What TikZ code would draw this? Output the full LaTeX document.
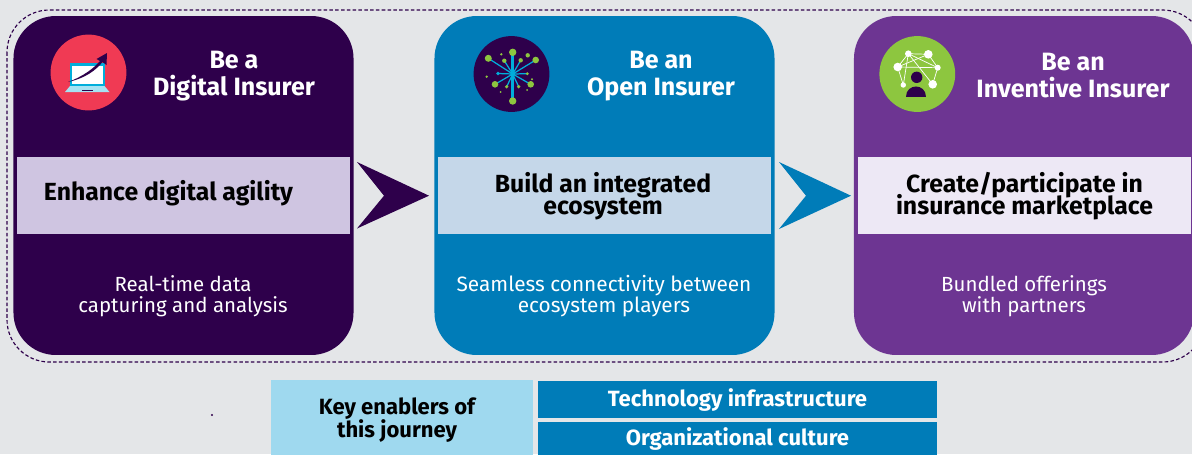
\documentclass[tikz,border=0pt]{standalone}
\usepackage{fontspec}
\setmainfont{Fira Sans}
\usepackage{tikz}
\usetikzlibrary{positioning}
\lineskiplimit=-20pt
\definecolor{pagegrey}{HTML}{E4E6E8}
\definecolor{darkplum}{HTML}{2E004B}
\definecolor{oceanblue}{HTML}{007CB8}
\definecolor{richpurple}{HTML}{6D3592}
\definecolor{paleplum}{HTML}{CFC5E1}
\definecolor{paleblue}{HTML}{C5D7E9}
\definecolor{palepurple}{HTML}{EDE8F5}
\definecolor{skyblue}{HTML}{9FD9EF}
\definecolor{leafgreen}{HTML}{8DC63F}
\definecolor{coral}{HTML}{F03A54}
\definecolor{cyanline}{HTML}{00AEDB}
\tikzset{
  card/.style={rounded corners=24pt, minimum width=192.8pt, minimum height=192.2pt, inner sep=0, outer sep=0},
  band/.style={minimum width=188.8pt, minimum height=43.7pt, inner sep=0, outer sep=0},
  bandtext/.style={align=center, inner sep=0, font=\fontsize{14.05}{12.5}\selectfont\bfseries, text=black},
  title/.style={align=center, text=white, font=\fontsize{14.2}{15.3}\selectfont\bfseries, inner sep=0},
  note/.style={align=center, text=white, font=\fontsize{11.6}{11.9}\selectfont, inner sep=0},
  enabler/.style={fill=oceanblue, text=white, minimum width=226.2pt, inner sep=0, outer sep=0, font=\fontsize{12.5}{14}\selectfont\bfseries},
  badge/.style={circle, minimum size=43pt, inner sep=0, outer sep=0},
  frame/.style={draw=darkplum, line width=0.65pt, dash pattern=on 2pt off 1.3pt, rounded corners=24pt}
}
\begin{document}
\begin{tikzpicture}[x=0.567pt, y=-0.567pt]
\useasboundingbox (0,0) rectangle (1192,454);
\fill[pagegrey] (0,0) rectangle (1192,454);

% Outer frame
\draw[frame] (7,10) rectangle (1205,362);

% Cards
\node[card, fill=darkplum] (digital) at (183.5,185.5) {};
\node[card, fill=oceanblue] (open) at (604.5,185.5) {};
\node[card, fill=richpurple] (inventive) at (1024,185.5) {};

% Titles
\node[title] (digitaltitle) at (234,76) {Be a\\Digital Insurer};
\node[title] (opentitle) at (661,76) {Be an\\Open Insurer};
\node[title] (inventivetitle) at (1073,76) {Be an\\Inventive Insurer};

% Bands
\node[band, fill=paleplum] (digitalband) at (183.5,195.5) {};
\node[band, fill=paleblue] (openband) at (604.5,195.5) {};
\node[band, fill=palepurple] (inventiveband) at (1024.5,195.5) {};
\node[bandtext] (digitaltext) at (168.5,193.5) {Enhance digital agility};
\node[bandtext] (opentext) at (603,196) {Build an integrated\\ecosystem};
\node[bandtext] (inventivetext) at (1024.5,196) {Create/participate in\\insurance marketplace};

% Notes
\node[note] (digitalnote) at (183,296) {Real-time data\\capturing and analysis};
\node[note, font=\fontsize{11.8}{11.9}\selectfont] (opennote) at (604,296) {Seamless connectivity between\\ecosystem players};
\node[note] (inventivenote) at (1024,296) {Bundled offerings\\with partners};

% Arrows between the cards
\fill[darkplum] (357,162) -- (429,195.7) -- (357,228.5) -- (384,195.7) -- cycle;
\fill[oceanblue] (779,162) -- (851,195.7) -- (779,229) -- (806,195.7) -- cycle;

% Laptop badge
\node[badge, fill=coral] (laptopbadge) at (88.5,72.5) {};
\fill[cyanline] (70,63) rectangle (104.5,86);
\fill[white] (72,65.5) rectangle (102.5,84);
\fill[cyanline!35!white] (70,86) -- (104.5,86) -- (109.5,92) -- (65,92) -- cycle;
\fill[darkplum] (82,89.5) rectangle (93,91);
\fill[darkplum] (68,82) .. controls (84,76) and (94,68) .. (100,61) -- (96.5,59) -- (107,53) -- (106.5,65) -- (102.5,62) .. controls (96,70) and (86,78) .. cycle;

% Network badge
\node[badge, fill=darkplum] (networkbadge) at (511.5,74) {};
\foreach \px/\py in {488.3/58.3, 535.7/60, 495/84.3, 530.7/84.3, 504.3/60.7, 520.7/60.3, 506.7/86.7, 518.7/86.7, 527.3/73.7, 498/73.5} {
  \draw[cyanline, line width=0.7pt] (512.7,74) -- (\px,\py);
}
\draw[cyanline, line width=1.5pt] (512.7,52) -- (512.7,101);
\foreach \px/\py/\rad in {512.7/52.3/3.7, 512.7/101/3.7, 488.3/58.3/3.5, 535.7/60/3.3, 495/84.3/3.3, 530.7/84.3/3.3, 504.3/60.7/2.2, 520.7/60.3/2.2, 527.7/55.3/2.2, 506.7/86.7/1.8, 518.7/86.7/1.8, 527.3/73.7/1.6, 486.7/76.7/1.3, 501.3/54.3/1.3, 532/79.3/1.1, 527/90/1, 500.7/92/1} {
  \fill[leafgreen] (\px,\py) circle ({\rad*0.567pt});
}
\fill[cyanline] (498,73.5) circle (1.1pt);
\fill[cyanline] (512.7,74) circle (1.4pt);

% People badge
\node[badge, fill=leafgreen] (peoplebadge) at (917.3,74) {};
\foreach \ax/\ay/\bx/\by in {908.3/53.7/928.3/54.3, 908.3/53.7/897.7/67, 908.3/53.7/937.7/67.7, 928.3/54.3/937.7/67.7, 897.7/67/903.3/85, 897.7/67/937.7/67.7, 937.7/67.7/932.7/84.3, 908.3/53.7/932.7/84.3, 928.3/54.3/897.7/67, 903.3/85/908.3/53.7} {
  \draw[white, line width=0.4pt] (\ax,\ay) -- (\bx,\by);
}
\foreach \px/\py/\rad in {908.3/53.7/3.3, 928.3/54.3/4.3, 897.7/67/4.3, 937.7/67.7/3, 903.3/85/2.7, 932.7/84.3/4.3} {
  \fill[white] (\px,\py) circle ({\rad*0.567pt});
}
\fill[darkplum] (916.7,77.3) circle ({5.7*0.567pt});
\fill[darkplum] (905.7,97.3) .. controls (905.7,83) and (926.3,83) .. (926.3,97.3) -- cycle;

% Key enablers
\node[fill=skyblue, minimum width=149pt, minimum height=42pt, inner sep=0, outer sep=0] (keybox) at (402,417.5) {};
\node[align=center, font=\fontsize{12.5}{12.8}\selectfont\bfseries, text=black, inner sep=0] (keytext) at (397,420) {Key enablers of\\this journey};
\node[enabler, minimum height=20.8pt] (techbox) at (737.5,399.5) {Technology infrastructure};
\node[enabler, minimum height=19.8pt] (culturebox) at (737.5,439) {Organizational culture};
\fill[darkplum] (212,415) circle (0.6pt);
\end{tikzpicture}
\end{document}
